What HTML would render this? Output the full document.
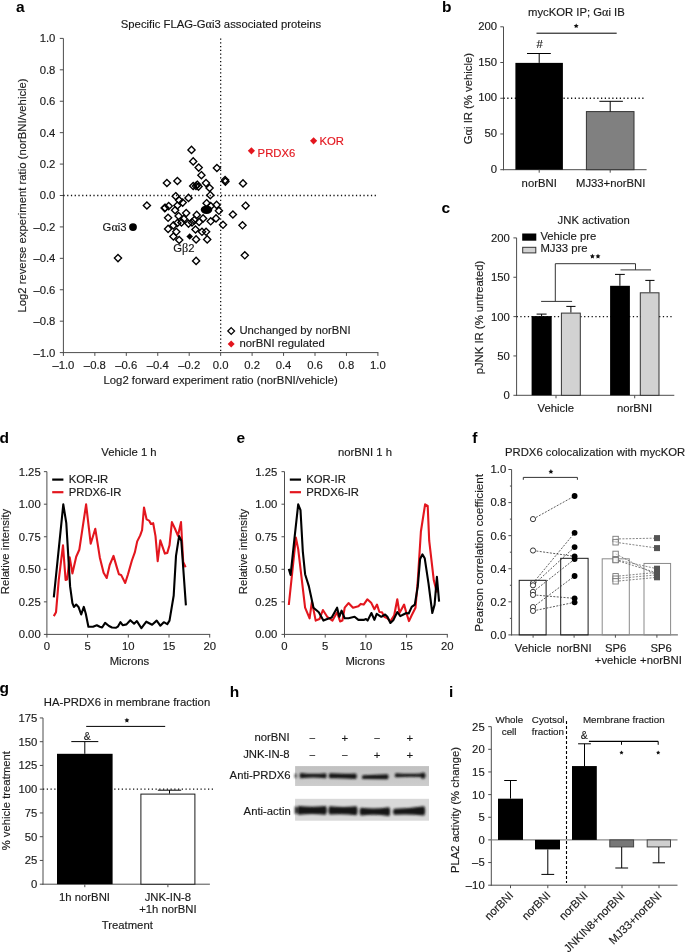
<!DOCTYPE html>
<html><head><meta charset="utf-8"><style>
html,body{margin:0;padding:0;background:#fff;}
svg{display:block;will-change:transform;}
text{font-family:"Liberation Sans",sans-serif;}
</style></head><body>
<svg width="685" height="952" viewBox="0 0 685 952">
<rect width="685" height="952" fill="#fff"/>
<text x="16.00" y="11.70" text-anchor="start" font-size="15.5" fill="#000" stroke="#000" stroke-width="0" font-weight="bold" >a</text>
<text x="221.00" y="28.30" text-anchor="middle" font-size="11.3" fill="#1a1a1a" stroke="#1a1a1a" stroke-width="0.15" font-weight="normal" >Specific FLAG-G<tspan font-family="Liberation Serif" font-size="12.2">α</tspan>i3 associated proteins</text>
<line x1="63.40" y1="38.40" x2="63.40" y2="353.10" stroke="#4d4d4d" stroke-width="1" />
<line x1="62.90" y1="352.60" x2="378.40" y2="352.60" stroke="#4d4d4d" stroke-width="1" />
<line x1="59.80" y1="352.60" x2="63.40" y2="352.60" stroke="#4d4d4d" stroke-width="1" />
<line x1="63.40" y1="352.60" x2="63.40" y2="355.90" stroke="#4d4d4d" stroke-width="1" />
<text x="55.40" y="356.50" text-anchor="end" font-size="11.3" fill="#1a1a1a" stroke="#1a1a1a" stroke-width="0.15" font-weight="normal" >–1.0</text>
<text x="63.40" y="368.50" text-anchor="middle" font-size="11.3" fill="#1a1a1a" stroke="#1a1a1a" stroke-width="0.15" font-weight="normal" >–1.0</text>
<line x1="59.80" y1="321.18" x2="63.40" y2="321.18" stroke="#4d4d4d" stroke-width="1" />
<line x1="94.85" y1="352.60" x2="94.85" y2="355.90" stroke="#4d4d4d" stroke-width="1" />
<text x="55.40" y="325.08" text-anchor="end" font-size="11.3" fill="#1a1a1a" stroke="#1a1a1a" stroke-width="0.15" font-weight="normal" >–0.8</text>
<text x="94.85" y="368.50" text-anchor="middle" font-size="11.3" fill="#1a1a1a" stroke="#1a1a1a" stroke-width="0.15" font-weight="normal" >–0.8</text>
<line x1="59.80" y1="289.76" x2="63.40" y2="289.76" stroke="#4d4d4d" stroke-width="1" />
<line x1="126.30" y1="352.60" x2="126.30" y2="355.90" stroke="#4d4d4d" stroke-width="1" />
<text x="55.40" y="293.66" text-anchor="end" font-size="11.3" fill="#1a1a1a" stroke="#1a1a1a" stroke-width="0.15" font-weight="normal" >–0.6</text>
<text x="126.30" y="368.50" text-anchor="middle" font-size="11.3" fill="#1a1a1a" stroke="#1a1a1a" stroke-width="0.15" font-weight="normal" >–0.6</text>
<line x1="59.80" y1="258.34" x2="63.40" y2="258.34" stroke="#4d4d4d" stroke-width="1" />
<line x1="157.75" y1="352.60" x2="157.75" y2="355.90" stroke="#4d4d4d" stroke-width="1" />
<text x="55.40" y="262.24" text-anchor="end" font-size="11.3" fill="#1a1a1a" stroke="#1a1a1a" stroke-width="0.15" font-weight="normal" >–0.4</text>
<text x="157.75" y="368.50" text-anchor="middle" font-size="11.3" fill="#1a1a1a" stroke="#1a1a1a" stroke-width="0.15" font-weight="normal" >–0.4</text>
<line x1="59.80" y1="226.92" x2="63.40" y2="226.92" stroke="#4d4d4d" stroke-width="1" />
<line x1="189.20" y1="352.60" x2="189.20" y2="355.90" stroke="#4d4d4d" stroke-width="1" />
<text x="55.40" y="230.82" text-anchor="end" font-size="11.3" fill="#1a1a1a" stroke="#1a1a1a" stroke-width="0.15" font-weight="normal" >–0.2</text>
<text x="189.20" y="368.50" text-anchor="middle" font-size="11.3" fill="#1a1a1a" stroke="#1a1a1a" stroke-width="0.15" font-weight="normal" >–0.2</text>
<line x1="59.80" y1="195.50" x2="63.40" y2="195.50" stroke="#4d4d4d" stroke-width="1" />
<line x1="220.65" y1="352.60" x2="220.65" y2="355.90" stroke="#4d4d4d" stroke-width="1" />
<text x="55.40" y="199.40" text-anchor="end" font-size="11.3" fill="#1a1a1a" stroke="#1a1a1a" stroke-width="0.15" font-weight="normal" >0.0</text>
<text x="220.65" y="368.50" text-anchor="middle" font-size="11.3" fill="#1a1a1a" stroke="#1a1a1a" stroke-width="0.15" font-weight="normal" >0.0</text>
<line x1="59.80" y1="164.08" x2="63.40" y2="164.08" stroke="#4d4d4d" stroke-width="1" />
<line x1="252.10" y1="352.60" x2="252.10" y2="355.90" stroke="#4d4d4d" stroke-width="1" />
<text x="55.40" y="167.98" text-anchor="end" font-size="11.3" fill="#1a1a1a" stroke="#1a1a1a" stroke-width="0.15" font-weight="normal" >0.2</text>
<text x="252.10" y="368.50" text-anchor="middle" font-size="11.3" fill="#1a1a1a" stroke="#1a1a1a" stroke-width="0.15" font-weight="normal" >0.2</text>
<line x1="59.80" y1="132.66" x2="63.40" y2="132.66" stroke="#4d4d4d" stroke-width="1" />
<line x1="283.55" y1="352.60" x2="283.55" y2="355.90" stroke="#4d4d4d" stroke-width="1" />
<text x="55.40" y="136.56" text-anchor="end" font-size="11.3" fill="#1a1a1a" stroke="#1a1a1a" stroke-width="0.15" font-weight="normal" >0.4</text>
<text x="283.55" y="368.50" text-anchor="middle" font-size="11.3" fill="#1a1a1a" stroke="#1a1a1a" stroke-width="0.15" font-weight="normal" >0.4</text>
<line x1="59.80" y1="101.24" x2="63.40" y2="101.24" stroke="#4d4d4d" stroke-width="1" />
<line x1="315.00" y1="352.60" x2="315.00" y2="355.90" stroke="#4d4d4d" stroke-width="1" />
<text x="55.40" y="105.14" text-anchor="end" font-size="11.3" fill="#1a1a1a" stroke="#1a1a1a" stroke-width="0.15" font-weight="normal" >0.6</text>
<text x="315.00" y="368.50" text-anchor="middle" font-size="11.3" fill="#1a1a1a" stroke="#1a1a1a" stroke-width="0.15" font-weight="normal" >0.6</text>
<line x1="59.80" y1="69.82" x2="63.40" y2="69.82" stroke="#4d4d4d" stroke-width="1" />
<line x1="346.45" y1="352.60" x2="346.45" y2="355.90" stroke="#4d4d4d" stroke-width="1" />
<text x="55.40" y="73.72" text-anchor="end" font-size="11.3" fill="#1a1a1a" stroke="#1a1a1a" stroke-width="0.15" font-weight="normal" >0.8</text>
<text x="346.45" y="368.50" text-anchor="middle" font-size="11.3" fill="#1a1a1a" stroke="#1a1a1a" stroke-width="0.15" font-weight="normal" >0.8</text>
<line x1="59.80" y1="38.40" x2="63.40" y2="38.40" stroke="#4d4d4d" stroke-width="1" />
<line x1="377.90" y1="352.60" x2="377.90" y2="355.90" stroke="#4d4d4d" stroke-width="1" />
<text x="55.40" y="42.30" text-anchor="end" font-size="11.3" fill="#1a1a1a" stroke="#1a1a1a" stroke-width="0.15" font-weight="normal" >1.0</text>
<text x="377.90" y="368.50" text-anchor="middle" font-size="11.3" fill="#1a1a1a" stroke="#1a1a1a" stroke-width="0.15" font-weight="normal" >1.0</text>
<line x1="63.40" y1="195.50" x2="377.90" y2="195.50" stroke="#111" stroke-width="1.3" stroke-dasharray="1.25 2.5"/>
<line x1="220.65" y1="38.40" x2="220.65" y2="352.60" stroke="#111" stroke-width="1.3" stroke-dasharray="1.25 2.5"/>
<text x="220.65" y="383.80" text-anchor="middle" font-size="11.3" fill="#1a1a1a" stroke="#1a1a1a" stroke-width="0.15" font-weight="normal" >Log2 forward experiment ratio (norBNI/vehicle)</text>
<text x="0" y="0" text-anchor="middle" font-size="11.3" fill="#1a1a1a" stroke="#1a1a1a" stroke-width="0.15" transform="translate(26.15,195.50) rotate(-90)">Log2 reverse experiment ratio (norBNI/vehicle)</text>
<path d="M191.5 146.3L195.1 149.9L191.5 153.5L187.9 149.9Z" fill="none" stroke="#000" stroke-width="1.35"/>
<path d="M193.2 157.8L196.8 161.4L193.2 165.0L189.6 161.4Z" fill="none" stroke="#000" stroke-width="1.35"/>
<path d="M198.7 164.0L202.3 167.6L198.7 171.2L195.1 167.6Z" fill="none" stroke="#000" stroke-width="1.35"/>
<path d="M216.9 164.4L220.5 168.0L216.9 171.6L213.3 168.0Z" fill="none" stroke="#000" stroke-width="1.35"/>
<path d="M201.4 171.6L205.0 175.2L201.4 178.8L197.8 175.2Z" fill="none" stroke="#000" stroke-width="1.35"/>
<path d="M225.1 176.5L228.7 180.1L225.1 183.7L221.5 180.1Z" fill="none" stroke="#000" stroke-width="1.35"/>
<path d="M225.4 178.0L229.0 181.6L225.4 185.2L221.8 181.6Z" fill="none" stroke="#000" stroke-width="1.35"/>
<path d="M166.9 179.4L170.5 183.0L166.9 186.6L163.3 183.0Z" fill="none" stroke="#000" stroke-width="1.35"/>
<path d="M177.4 177.4L181.0 181.0L177.4 184.6L173.8 181.0Z" fill="none" stroke="#000" stroke-width="1.35"/>
<path d="M193.2 182.4L196.8 186.0L193.2 189.6L189.6 186.0Z" fill="none" stroke="#000" stroke-width="1.35"/>
<path d="M197.2 181.1L200.8 184.7L197.2 188.3L193.6 184.7Z" fill="none" stroke="#000" stroke-width="1.35"/>
<path d="M198.5 183.0L202.1 186.6L198.5 190.2L194.9 186.6Z" fill="none" stroke="#000" stroke-width="1.35"/>
<path d="M196.0 182.4L199.6 186.0L196.0 189.6L192.4 186.0Z" fill="none" stroke="#000" stroke-width="1.35"/>
<path d="M206.0 179.5L209.6 183.1L206.0 186.7L202.4 183.1Z" fill="none" stroke="#000" stroke-width="1.35"/>
<path d="M209.6 184.4L213.2 188.0L209.6 191.6L206.0 188.0Z" fill="none" stroke="#000" stroke-width="1.35"/>
<path d="M210.3 191.6L213.9 195.2L210.3 198.8L206.7 195.2Z" fill="none" stroke="#000" stroke-width="1.35"/>
<path d="M243.0 179.8L246.6 183.4L243.0 187.0L239.4 183.4Z" fill="none" stroke="#000" stroke-width="1.35"/>
<path d="M175.7 192.6L179.3 196.2L175.7 199.8L172.1 196.2Z" fill="none" stroke="#000" stroke-width="1.35"/>
<path d="M179.2 196.7L182.8 200.3L179.2 203.9L175.6 200.3Z" fill="none" stroke="#000" stroke-width="1.35"/>
<path d="M182.7 199.0L186.3 202.6L182.7 206.2L179.1 202.6Z" fill="none" stroke="#000" stroke-width="1.35"/>
<path d="M188.5 194.3L192.1 197.9L188.5 201.5L184.9 197.9Z" fill="none" stroke="#000" stroke-width="1.35"/>
<path d="M177.4 201.9L181.0 205.5L177.4 209.1L173.8 205.5Z" fill="none" stroke="#000" stroke-width="1.35"/>
<path d="M165.2 204.2L168.8 207.8L165.2 211.4L161.6 207.8Z" fill="none" stroke="#000" stroke-width="1.35"/>
<path d="M168.7 202.5L172.3 206.1L168.7 209.7L165.1 206.1Z" fill="none" stroke="#000" stroke-width="1.35"/>
<path d="M175.1 206.6L178.7 210.2L175.1 213.8L171.5 210.2Z" fill="none" stroke="#000" stroke-width="1.35"/>
<path d="M206.6 199.6L210.2 203.2L206.6 206.8L203.0 203.2Z" fill="none" stroke="#000" stroke-width="1.35"/>
<path d="M210.7 202.5L214.3 206.1L210.7 209.7L207.1 206.1Z" fill="none" stroke="#000" stroke-width="1.35"/>
<path d="M216.6 201.3L220.2 204.9L216.6 208.5L213.0 204.9Z" fill="none" stroke="#000" stroke-width="1.35"/>
<path d="M218.9 207.2L222.5 210.8L218.9 214.4L215.3 210.8Z" fill="none" stroke="#000" stroke-width="1.35"/>
<path d="M168.1 214.2L171.7 217.8L168.1 221.4L164.5 217.8Z" fill="none" stroke="#000" stroke-width="1.35"/>
<path d="M178.6 212.4L182.2 216.0L178.6 219.6L175.0 216.0Z" fill="none" stroke="#000" stroke-width="1.35"/>
<path d="M186.2 209.5L189.8 213.1L186.2 216.7L182.6 213.1Z" fill="none" stroke="#000" stroke-width="1.35"/>
<path d="M196.7 211.3L200.3 214.9L196.7 218.5L193.1 214.9Z" fill="none" stroke="#000" stroke-width="1.35"/>
<path d="M183.9 215.3L187.5 218.9L183.9 222.5L180.3 218.9Z" fill="none" stroke="#000" stroke-width="1.35"/>
<path d="M194.4 216.5L198.0 220.1L194.4 223.7L190.8 220.1Z" fill="none" stroke="#000" stroke-width="1.35"/>
<path d="M203.1 214.8L206.7 218.4L203.1 222.0L199.5 218.4Z" fill="none" stroke="#000" stroke-width="1.35"/>
<path d="M210.7 217.7L214.3 221.3L210.7 224.9L207.1 221.3Z" fill="none" stroke="#000" stroke-width="1.35"/>
<path d="M216.0 214.8L219.6 218.4L216.0 222.0L212.4 218.4Z" fill="none" stroke="#000" stroke-width="1.35"/>
<path d="M177.4 219.4L181.0 223.0L177.4 226.6L173.8 223.0Z" fill="none" stroke="#000" stroke-width="1.35"/>
<path d="M173.4 221.8L177.0 225.4L173.4 229.0L169.8 225.4Z" fill="none" stroke="#000" stroke-width="1.35"/>
<path d="M181.5 218.8L185.1 222.4L181.5 226.0L177.9 222.4Z" fill="none" stroke="#000" stroke-width="1.35"/>
<path d="M188.5 220.0L192.1 223.6L188.5 227.2L184.9 223.6Z" fill="none" stroke="#000" stroke-width="1.35"/>
<path d="M192.0 218.8L195.6 222.4L192.0 226.0L188.4 222.4Z" fill="none" stroke="#000" stroke-width="1.35"/>
<path d="M199.1 218.3L202.7 221.9L199.1 225.5L195.5 221.9Z" fill="none" stroke="#000" stroke-width="1.35"/>
<path d="M223.0 221.2L226.6 224.8L223.0 228.4L219.4 224.8Z" fill="none" stroke="#000" stroke-width="1.35"/>
<path d="M168.1 225.3L171.7 228.9L168.1 232.5L164.5 228.9Z" fill="none" stroke="#000" stroke-width="1.35"/>
<path d="M176.3 228.2L179.9 231.8L176.3 235.4L172.7 231.8Z" fill="none" stroke="#000" stroke-width="1.35"/>
<path d="M195.5 225.9L199.1 229.5L195.5 233.1L191.9 229.5Z" fill="none" stroke="#000" stroke-width="1.35"/>
<path d="M202.0 228.2L205.6 231.8L202.0 235.4L198.4 231.8Z" fill="none" stroke="#000" stroke-width="1.35"/>
<path d="M206.1 228.2L209.7 231.8L206.1 235.4L202.5 231.8Z" fill="none" stroke="#000" stroke-width="1.35"/>
<path d="M173.4 232.9L177.0 236.5L173.4 240.1L169.8 236.5Z" fill="none" stroke="#000" stroke-width="1.35"/>
<path d="M179.2 236.4L182.8 240.0L179.2 243.6L175.6 240.0Z" fill="none" stroke="#000" stroke-width="1.35"/>
<path d="M196.1 235.8L199.7 239.4L196.1 243.0L192.5 239.4Z" fill="none" stroke="#000" stroke-width="1.35"/>
<path d="M207.2 235.8L210.8 239.4L207.2 243.0L203.6 239.4Z" fill="none" stroke="#000" stroke-width="1.35"/>
<path d="M146.9 201.9L150.5 205.5L146.9 209.1L143.3 205.5Z" fill="none" stroke="#000" stroke-width="1.35"/>
<path d="M118.0 254.5L121.6 258.1L118.0 261.7L114.4 258.1Z" fill="none" stroke="#000" stroke-width="1.35"/>
<path d="M245.6 202.1L249.2 205.7L245.6 209.3L242.0 205.7Z" fill="none" stroke="#000" stroke-width="1.35"/>
<path d="M232.9 210.9L236.5 214.5L232.9 218.1L229.3 214.5Z" fill="none" stroke="#000" stroke-width="1.35"/>
<path d="M242.5 221.7L246.1 225.3L242.5 228.9L238.9 225.3Z" fill="none" stroke="#000" stroke-width="1.35"/>
<path d="M244.8 251.7L248.4 255.3L244.8 258.9L241.2 255.3Z" fill="none" stroke="#000" stroke-width="1.35"/>
<path d="M196.1 257.3L199.7 260.9L196.1 264.5L192.5 260.9Z" fill="none" stroke="#000" stroke-width="1.35"/>
<path d="M164.7 204.5L168.3 208.1L164.7 211.7L161.1 208.1Z" fill="none" stroke="#000" stroke-width="1.35"/>
<ellipse cx="206.5" cy="209.8" rx="5.8" ry="4.2" fill="#000"/>
<circle cx="133.0" cy="227.1" r="3.9" fill="#000"/>
<text x="102.60" y="230.60" text-anchor="start" font-size="11.3" fill="#1a1a1a" stroke="#1a1a1a" stroke-width="0.15" font-weight="normal" >G<tspan font-family="Liberation Serif" font-size="12.2">α</tspan>i3</text>
<path d="M189.7 233.2L193.0 236.5L189.7 239.8L186.4 236.5Z" fill="#000"/>
<text x="173.30" y="252.10" text-anchor="start" font-size="11.3" fill="#1a1a1a" stroke="#1a1a1a" stroke-width="0.15" font-weight="normal" >G<tspan font-family="Liberation Serif" font-size="12.2">β</tspan>2</text>
<path d="M251.4 147.2L255.0 150.8L251.4 154.4L247.8 150.8Z" fill="#e3161e"/>
<text x="257.60" y="157.40" text-anchor="start" font-size="11.3" fill="#e3161e" stroke="#e3161e" stroke-width="0.15" font-weight="normal" >PRDX6</text>
<path d="M313.6 137.2L317.2 140.8L313.6 144.4L310.0 140.8Z" fill="#e3161e"/>
<text x="319.40" y="145.00" text-anchor="start" font-size="11.3" fill="#e3161e" stroke="#e3161e" stroke-width="0.15" font-weight="normal" >KOR</text>
<path d="M231.2 327.6L234.6 331L231.2 334.4L227.8 331Z" fill="none" stroke="#000" stroke-width="1.25"/>
<text x="239.40" y="333.60" text-anchor="start" font-size="11.3" fill="#1a1a1a" stroke="#1a1a1a" stroke-width="0.15" font-weight="normal" >Unchanged by norBNI</text>
<path d="M231.2 340.6L234.7 344.1L231.2 347.6L227.7 344.1Z" fill="#e3161e"/>
<text x="239.40" y="346.70" text-anchor="start" font-size="11.3" fill="#1a1a1a" stroke="#1a1a1a" stroke-width="0.15" font-weight="normal" >norBNI regulated</text>
<text x="442.00" y="12.20" text-anchor="start" font-size="15.5" fill="#000" stroke="#000" stroke-width="0" font-weight="bold" >b</text>
<line x1="503.50" y1="26.80" x2="503.50" y2="170.20" stroke="#4d4d4d" stroke-width="1" />
<line x1="503.00" y1="169.70" x2="646.60" y2="169.70" stroke="#4d4d4d" stroke-width="1" />
<line x1="500.30" y1="169.70" x2="503.50" y2="169.70" stroke="#4d4d4d" stroke-width="1" />
<text x="497.00" y="172.90" text-anchor="end" font-size="11.3" fill="#1a1a1a" stroke="#1a1a1a" stroke-width="0.15" font-weight="normal" >0</text>
<line x1="500.30" y1="133.97" x2="503.50" y2="133.97" stroke="#4d4d4d" stroke-width="1" />
<text x="497.00" y="137.17" text-anchor="end" font-size="11.3" fill="#1a1a1a" stroke="#1a1a1a" stroke-width="0.15" font-weight="normal" >50</text>
<line x1="500.30" y1="98.25" x2="503.50" y2="98.25" stroke="#4d4d4d" stroke-width="1" />
<text x="497.00" y="101.45" text-anchor="end" font-size="11.3" fill="#1a1a1a" stroke="#1a1a1a" stroke-width="0.15" font-weight="normal" >100</text>
<line x1="500.30" y1="62.52" x2="503.50" y2="62.52" stroke="#4d4d4d" stroke-width="1" />
<text x="497.00" y="65.72" text-anchor="end" font-size="11.3" fill="#1a1a1a" stroke="#1a1a1a" stroke-width="0.15" font-weight="normal" >150</text>
<line x1="500.30" y1="26.80" x2="503.50" y2="26.80" stroke="#4d4d4d" stroke-width="1" />
<text x="497.00" y="30.00" text-anchor="end" font-size="11.3" fill="#1a1a1a" stroke="#1a1a1a" stroke-width="0.15" font-weight="normal" >200</text>
<line x1="503.50" y1="98.25" x2="645.80" y2="98.25" stroke="#111" stroke-width="1.3" stroke-dasharray="1.25 2.5"/>
<rect x="515.40" y="62.88" width="47.50" height="106.82" fill="#000" stroke="none" stroke-width="1"/>
<line x1="539.20" y1="62.88" x2="539.20" y2="53.50" stroke="#000" stroke-width="1" />
<line x1="527.00" y1="53.50" x2="550.80" y2="53.50" stroke="#000" stroke-width="1" />
<rect x="586.40" y="111.60" width="47.60" height="58.10" fill="#808080" stroke="#333" stroke-width="1"/>
<line x1="610.20" y1="111.60" x2="610.20" y2="101.30" stroke="#000" stroke-width="1" />
<line x1="599.40" y1="101.30" x2="622.90" y2="101.30" stroke="#000" stroke-width="1" />
<line x1="539.20" y1="169.70" x2="539.20" y2="172.70" stroke="#4d4d4d" stroke-width="1" />
<line x1="610.20" y1="169.70" x2="610.20" y2="172.70" stroke="#4d4d4d" stroke-width="1" />
<text x="539.20" y="186.60" text-anchor="middle" font-size="11.3" fill="#1a1a1a" stroke="#1a1a1a" stroke-width="0.15" font-weight="normal" >norBNI</text>
<text x="610.70" y="186.60" text-anchor="middle" font-size="11.3" fill="#1a1a1a" stroke="#1a1a1a" stroke-width="0.15" font-weight="normal" >MJ33+norBNI</text>
<line x1="536.50" y1="33.20" x2="616.70" y2="33.20" stroke="#000" stroke-width="1" />
<polygon points="576.20,23.40 576.96,24.95 578.67,25.20 577.44,26.40 577.73,28.10 576.20,27.30 574.67,28.10 574.96,26.40 573.73,25.20 575.44,24.95" fill="#111"/>
<text x="539.70" y="47.80" text-anchor="middle" font-size="11.3" fill="#1a1a1a" stroke="#1a1a1a" stroke-width="0.15" font-weight="normal" >#</text>
<text x="576.40" y="16.20" text-anchor="middle" font-size="11.3" fill="#1a1a1a" stroke="#1a1a1a" stroke-width="0.15" font-weight="normal" >mycKOR IP; G<tspan font-family="Liberation Serif" font-size="12.2">α</tspan>i IB</text>
<text x="0" y="0" text-anchor="middle" font-size="11.3" fill="#1a1a1a" stroke="#1a1a1a" stroke-width="0.15" transform="translate(471.80,98.60) rotate(-90)">G<tspan font-family="Liberation Serif" font-size="12.2">α</tspan>i IR (% vehicle)</text>
<text x="441.50" y="213.00" text-anchor="start" font-size="15.5" fill="#000" stroke="#000" stroke-width="0" font-weight="bold" >c</text>
<line x1="516.60" y1="237.90" x2="516.60" y2="395.80" stroke="#4d4d4d" stroke-width="1" />
<line x1="516.00" y1="395.30" x2="674.30" y2="395.30" stroke="#4d4d4d" stroke-width="1" />
<line x1="513.40" y1="395.30" x2="516.60" y2="395.30" stroke="#4d4d4d" stroke-width="1" />
<text x="509.90" y="399.20" text-anchor="end" font-size="11.3" fill="#1a1a1a" stroke="#1a1a1a" stroke-width="0.15" font-weight="normal" >0</text>
<line x1="513.40" y1="355.95" x2="516.60" y2="355.95" stroke="#4d4d4d" stroke-width="1" />
<text x="509.90" y="359.85" text-anchor="end" font-size="11.3" fill="#1a1a1a" stroke="#1a1a1a" stroke-width="0.15" font-weight="normal" >50</text>
<line x1="513.40" y1="316.60" x2="516.60" y2="316.60" stroke="#4d4d4d" stroke-width="1" />
<text x="509.90" y="320.50" text-anchor="end" font-size="11.3" fill="#1a1a1a" stroke="#1a1a1a" stroke-width="0.15" font-weight="normal" >100</text>
<line x1="513.40" y1="277.25" x2="516.60" y2="277.25" stroke="#4d4d4d" stroke-width="1" />
<text x="509.90" y="281.15" text-anchor="end" font-size="11.3" fill="#1a1a1a" stroke="#1a1a1a" stroke-width="0.15" font-weight="normal" >150</text>
<line x1="513.40" y1="237.90" x2="516.60" y2="237.90" stroke="#4d4d4d" stroke-width="1" />
<text x="509.90" y="241.80" text-anchor="end" font-size="11.3" fill="#1a1a1a" stroke="#1a1a1a" stroke-width="0.15" font-weight="normal" >200</text>
<line x1="516.60" y1="316.60" x2="673.80" y2="316.60" stroke="#111" stroke-width="1.3" stroke-dasharray="1.25 2.5"/>
<line x1="541.60" y1="316.10" x2="541.60" y2="314.10" stroke="#000" stroke-width="1" />
<line x1="536.60" y1="314.10" x2="546.60" y2="314.10" stroke="#000" stroke-width="1" />
<line x1="570.90" y1="312.60" x2="570.90" y2="306.40" stroke="#000" stroke-width="1" />
<line x1="566.30" y1="306.40" x2="575.50" y2="306.40" stroke="#000" stroke-width="1" />
<line x1="619.90" y1="285.80" x2="619.90" y2="274.40" stroke="#000" stroke-width="1" />
<line x1="615.00" y1="274.40" x2="624.80" y2="274.40" stroke="#000" stroke-width="1" />
<line x1="649.90" y1="292.30" x2="649.90" y2="280.40" stroke="#000" stroke-width="1" />
<line x1="645.30" y1="280.40" x2="654.50" y2="280.40" stroke="#000" stroke-width="1" />
<rect x="531.60" y="316.10" width="20.10" height="79.20" fill="#000" stroke="none" stroke-width="1"/>
<rect x="561.40" y="313.10" width="18.90" height="82.20" fill="#d2d2d2" stroke="#333" stroke-width="1"/>
<rect x="610.10" y="285.80" width="19.80" height="109.50" fill="#000" stroke="none" stroke-width="1"/>
<rect x="640.30" y="292.80" width="18.70" height="102.50" fill="#d2d2d2" stroke="#333" stroke-width="1"/>
<line x1="556.00" y1="395.30" x2="556.00" y2="398.30" stroke="#4d4d4d" stroke-width="1" />
<line x1="634.70" y1="395.30" x2="634.70" y2="398.30" stroke="#4d4d4d" stroke-width="1" />
<text x="555.80" y="412.10" text-anchor="middle" font-size="11.3" fill="#1a1a1a" stroke="#1a1a1a" stroke-width="0.15" font-weight="normal" >Vehicle</text>
<text x="634.50" y="412.10" text-anchor="middle" font-size="11.3" fill="#1a1a1a" stroke="#1a1a1a" stroke-width="0.15" font-weight="normal" >norBNI</text>
<line x1="541.10" y1="301.40" x2="572.10" y2="301.40" stroke="#333" stroke-width="1" />
<line x1="555.30" y1="301.40" x2="555.30" y2="263.70" stroke="#333" stroke-width="1" />
<line x1="555.30" y1="263.70" x2="635.50" y2="263.70" stroke="#333" stroke-width="1" />
<line x1="635.50" y1="263.70" x2="635.50" y2="269.90" stroke="#333" stroke-width="1" />
<line x1="620.50" y1="269.90" x2="651.00" y2="269.90" stroke="#333" stroke-width="1" />
<polygon points="592.40,253.80 593.16,255.35 594.87,255.60 593.64,256.80 593.93,258.50 592.40,257.70 590.87,258.50 591.16,256.80 589.93,255.60 591.64,255.35" fill="#111"/>
<polygon points="598.00,253.80 598.76,255.35 600.47,255.60 599.24,256.80 599.53,258.50 598.00,257.70 596.47,258.50 596.76,256.80 595.53,255.60 597.24,255.35" fill="#111"/>
<rect x="522.20" y="233.50" width="14.10" height="7.20" fill="#000" stroke="none" stroke-width="1"/>
<rect x="522.70" y="247.30" width="13.10" height="5.60" fill="#d2d2d2" stroke="#333" stroke-width="1"/>
<text x="540.40" y="240.10" text-anchor="start" font-size="11.3" fill="#1a1a1a" stroke="#1a1a1a" stroke-width="0.15" font-weight="normal" >Vehicle pre</text>
<text x="540.40" y="252.40" text-anchor="start" font-size="11.3" fill="#1a1a1a" stroke="#1a1a1a" stroke-width="0.15" font-weight="normal" >MJ33 pre</text>
<text x="593.70" y="223.60" text-anchor="middle" font-size="11.3" fill="#1a1a1a" stroke="#1a1a1a" stroke-width="0.15" font-weight="normal" >JNK activation</text>
<text x="0" y="0" text-anchor="middle" font-size="11.3" fill="#1a1a1a" stroke="#1a1a1a" stroke-width="0.15" transform="translate(483.30,317.50) rotate(-90)">pJNK IR (% untreated)</text>
<text x="-0.60" y="443.40" text-anchor="start" font-size="15.5" fill="#000" stroke="#000" stroke-width="0" font-weight="bold" >d</text>
<line x1="46.90" y1="471.65" x2="46.90" y2="634.90" stroke="#4d4d4d" stroke-width="1" />
<line x1="46.40" y1="634.40" x2="210.20" y2="634.40" stroke="#4d4d4d" stroke-width="1" />
<line x1="43.90" y1="634.40" x2="46.90" y2="634.40" stroke="#4d4d4d" stroke-width="1" />
<text x="40.70" y="638.30" text-anchor="end" font-size="11.3" fill="#1a1a1a" stroke="#1a1a1a" stroke-width="0.15" font-weight="normal" >0.00</text>
<line x1="43.90" y1="601.85" x2="46.90" y2="601.85" stroke="#4d4d4d" stroke-width="1" />
<text x="40.70" y="605.75" text-anchor="end" font-size="11.3" fill="#1a1a1a" stroke="#1a1a1a" stroke-width="0.15" font-weight="normal" >0.25</text>
<line x1="43.90" y1="569.30" x2="46.90" y2="569.30" stroke="#4d4d4d" stroke-width="1" />
<text x="40.70" y="573.20" text-anchor="end" font-size="11.3" fill="#1a1a1a" stroke="#1a1a1a" stroke-width="0.15" font-weight="normal" >0.50</text>
<line x1="43.90" y1="536.75" x2="46.90" y2="536.75" stroke="#4d4d4d" stroke-width="1" />
<text x="40.70" y="540.65" text-anchor="end" font-size="11.3" fill="#1a1a1a" stroke="#1a1a1a" stroke-width="0.15" font-weight="normal" >0.75</text>
<line x1="43.90" y1="504.20" x2="46.90" y2="504.20" stroke="#4d4d4d" stroke-width="1" />
<text x="40.70" y="508.10" text-anchor="end" font-size="11.3" fill="#1a1a1a" stroke="#1a1a1a" stroke-width="0.15" font-weight="normal" >1.00</text>
<line x1="43.90" y1="471.65" x2="46.90" y2="471.65" stroke="#4d4d4d" stroke-width="1" />
<text x="40.70" y="475.55" text-anchor="end" font-size="11.3" fill="#1a1a1a" stroke="#1a1a1a" stroke-width="0.15" font-weight="normal" >1.25</text>
<line x1="46.90" y1="634.40" x2="46.90" y2="637.60" stroke="#4d4d4d" stroke-width="1" />
<text x="46.90" y="650.10" text-anchor="middle" font-size="11.3" fill="#1a1a1a" stroke="#1a1a1a" stroke-width="0.15" font-weight="normal" >0</text>
<line x1="87.60" y1="634.40" x2="87.60" y2="637.60" stroke="#4d4d4d" stroke-width="1" />
<text x="87.60" y="650.10" text-anchor="middle" font-size="11.3" fill="#1a1a1a" stroke="#1a1a1a" stroke-width="0.15" font-weight="normal" >5</text>
<line x1="128.30" y1="634.40" x2="128.30" y2="637.60" stroke="#4d4d4d" stroke-width="1" />
<text x="128.30" y="650.10" text-anchor="middle" font-size="11.3" fill="#1a1a1a" stroke="#1a1a1a" stroke-width="0.15" font-weight="normal" >10</text>
<line x1="169.00" y1="634.40" x2="169.00" y2="637.60" stroke="#4d4d4d" stroke-width="1" />
<text x="169.00" y="650.10" text-anchor="middle" font-size="11.3" fill="#1a1a1a" stroke="#1a1a1a" stroke-width="0.15" font-weight="normal" >15</text>
<line x1="209.70" y1="634.40" x2="209.70" y2="637.60" stroke="#4d4d4d" stroke-width="1" />
<text x="209.70" y="650.10" text-anchor="middle" font-size="11.3" fill="#1a1a1a" stroke="#1a1a1a" stroke-width="0.15" font-weight="normal" >20</text>
<text x="129.40" y="664.60" text-anchor="middle" font-size="11.3" fill="#1a1a1a" stroke="#1a1a1a" stroke-width="0.15" font-weight="normal" >Microns</text>
<text x="0" y="0" text-anchor="middle" font-size="11.3" fill="#1a1a1a" stroke="#1a1a1a" stroke-width="0.15" transform="translate(9.40,551.50) rotate(-90)">Relative intensity</text>
<text x="129.00" y="456.10" text-anchor="middle" font-size="11.3" fill="#1a1a1a" stroke="#1a1a1a" stroke-width="0.15" font-weight="normal" >Vehicle 1 h</text>
<line x1="52.20" y1="479.60" x2="63.40" y2="479.60" stroke="#000" stroke-width="2.2" />
<line x1="52.20" y1="492.20" x2="63.40" y2="492.20" stroke="#e3161e" stroke-width="2.2" />
<text x="68.70" y="482.80" text-anchor="start" font-size="11.3" fill="#1a1a1a" stroke="#1a1a1a" stroke-width="0.15" font-weight="normal" >KOR-IR</text>
<text x="68.70" y="496.40" text-anchor="start" font-size="11.3" fill="#1a1a1a" stroke="#1a1a1a" stroke-width="0.15" font-weight="normal" >PRDX6-IR</text>
<polyline points="53.8,616.1 56.0,612.3 58.7,580.3 63.0,545.3 65.6,580.0 67.1,579.5 69.7,557.4 72.4,573.4 76.2,556.7 79.3,549.8 86.1,504.4 90.7,543.7 95.3,528.8 99.8,557.4 103.6,572.7 106.7,578.0 109.7,565.0 113.5,555.9 116.6,566.6 118.9,574.2 121.1,574.9 125.2,583.0 128.0,574.2 131.9,560.5 134.9,552.1 137.2,541.4 140.2,535.4 142.1,530.0 144.0,507.5 146.6,519.4 149.1,520.6 150.9,523.9 153.2,523.2 155.5,536.1 157.7,561.2 160.3,540.4 164.9,553.6 167.3,552.9 169.5,545.3 171.9,522.1 174.9,528.5 178.0,535.8 181.0,522.1 183.2,562.0 185.6,567.3" fill="none" stroke="#e3161e" stroke-width="2.1" stroke-linejoin="round" />
<polyline points="53.8,597.3 63.3,504.4 66.3,523.2 70.1,586.4 72.4,603.1 73.9,606.9 76.2,604.6 78.5,606.9 81.2,614.5 83.8,606.9 85.8,613.8 88.4,626.7 93.0,626.7 96.8,625.2 99.8,626.7 102.1,627.5 105.1,622.9 109.0,626.0 112.0,627.5 115.8,627.8 117.8,626.7 120.4,622.2 122.7,625.2 126.5,624.4 130.3,620.2 134.1,623.7 136.9,621.1 141.4,628.2 146.3,621.7 152.1,624.7 156.7,620.6 160.3,625.7 163.8,622.2 167.3,624.1 169.5,620.6 173.7,595.5 176.0,555.9 179.1,536.1 181.3,540.7 185.9,605.4" fill="none" stroke="#000" stroke-width="2.1" stroke-linejoin="round" />
<text x="236.60" y="443.40" text-anchor="start" font-size="15.5" fill="#000" stroke="#000" stroke-width="0" font-weight="bold" >e</text>
<line x1="284.50" y1="471.65" x2="284.50" y2="634.90" stroke="#4d4d4d" stroke-width="1" />
<line x1="284.00" y1="634.40" x2="447.80" y2="634.40" stroke="#4d4d4d" stroke-width="1" />
<line x1="281.50" y1="634.40" x2="284.50" y2="634.40" stroke="#4d4d4d" stroke-width="1" />
<text x="277.30" y="638.30" text-anchor="end" font-size="11.3" fill="#1a1a1a" stroke="#1a1a1a" stroke-width="0.15" font-weight="normal" >0.00</text>
<line x1="281.50" y1="601.85" x2="284.50" y2="601.85" stroke="#4d4d4d" stroke-width="1" />
<text x="277.30" y="605.75" text-anchor="end" font-size="11.3" fill="#1a1a1a" stroke="#1a1a1a" stroke-width="0.15" font-weight="normal" >0.25</text>
<line x1="281.50" y1="569.30" x2="284.50" y2="569.30" stroke="#4d4d4d" stroke-width="1" />
<text x="277.30" y="573.20" text-anchor="end" font-size="11.3" fill="#1a1a1a" stroke="#1a1a1a" stroke-width="0.15" font-weight="normal" >0.50</text>
<line x1="281.50" y1="536.75" x2="284.50" y2="536.75" stroke="#4d4d4d" stroke-width="1" />
<text x="277.30" y="540.65" text-anchor="end" font-size="11.3" fill="#1a1a1a" stroke="#1a1a1a" stroke-width="0.15" font-weight="normal" >0.75</text>
<line x1="281.50" y1="504.20" x2="284.50" y2="504.20" stroke="#4d4d4d" stroke-width="1" />
<text x="277.30" y="508.10" text-anchor="end" font-size="11.3" fill="#1a1a1a" stroke="#1a1a1a" stroke-width="0.15" font-weight="normal" >1.00</text>
<line x1="281.50" y1="471.65" x2="284.50" y2="471.65" stroke="#4d4d4d" stroke-width="1" />
<text x="277.30" y="475.55" text-anchor="end" font-size="11.3" fill="#1a1a1a" stroke="#1a1a1a" stroke-width="0.15" font-weight="normal" >1.25</text>
<line x1="284.50" y1="634.40" x2="284.50" y2="637.60" stroke="#4d4d4d" stroke-width="1" />
<text x="284.50" y="650.10" text-anchor="middle" font-size="11.3" fill="#1a1a1a" stroke="#1a1a1a" stroke-width="0.15" font-weight="normal" >0</text>
<line x1="325.20" y1="634.40" x2="325.20" y2="637.60" stroke="#4d4d4d" stroke-width="1" />
<text x="325.20" y="650.10" text-anchor="middle" font-size="11.3" fill="#1a1a1a" stroke="#1a1a1a" stroke-width="0.15" font-weight="normal" >5</text>
<line x1="365.90" y1="634.40" x2="365.90" y2="637.60" stroke="#4d4d4d" stroke-width="1" />
<text x="365.90" y="650.10" text-anchor="middle" font-size="11.3" fill="#1a1a1a" stroke="#1a1a1a" stroke-width="0.15" font-weight="normal" >10</text>
<line x1="406.60" y1="634.40" x2="406.60" y2="637.60" stroke="#4d4d4d" stroke-width="1" />
<text x="406.60" y="650.10" text-anchor="middle" font-size="11.3" fill="#1a1a1a" stroke="#1a1a1a" stroke-width="0.15" font-weight="normal" >15</text>
<line x1="447.30" y1="634.40" x2="447.30" y2="637.60" stroke="#4d4d4d" stroke-width="1" />
<text x="447.30" y="650.10" text-anchor="middle" font-size="11.3" fill="#1a1a1a" stroke="#1a1a1a" stroke-width="0.15" font-weight="normal" >20</text>
<text x="365.20" y="664.60" text-anchor="middle" font-size="11.3" fill="#1a1a1a" stroke="#1a1a1a" stroke-width="0.15" font-weight="normal" >Microns</text>
<text x="0" y="0" text-anchor="middle" font-size="11.3" fill="#1a1a1a" stroke="#1a1a1a" stroke-width="0.15" transform="translate(247.00,551.50) rotate(-90)">Relative intensity</text>
<text x="365.00" y="456.10" text-anchor="middle" font-size="11.3" fill="#1a1a1a" stroke="#1a1a1a" stroke-width="0.15" font-weight="normal" >norBNI 1 h</text>
<line x1="289.80" y1="479.60" x2="301.00" y2="479.60" stroke="#000" stroke-width="2.2" />
<line x1="289.80" y1="492.20" x2="301.00" y2="492.20" stroke="#e3161e" stroke-width="2.2" />
<text x="306.30" y="482.80" text-anchor="start" font-size="11.3" fill="#1a1a1a" stroke="#1a1a1a" stroke-width="0.15" font-weight="normal" >KOR-IR</text>
<text x="306.30" y="496.40" text-anchor="start" font-size="11.3" fill="#1a1a1a" stroke="#1a1a1a" stroke-width="0.15" font-weight="normal" >PRDX6-IR</text>
<polyline points="288.8,605.0 295.9,537.6 298.2,549.1 305.1,607.7 309.6,618.3 311.9,601.6 315.7,620.6 319.5,619.1 322.9,610.0 327.2,616.8 332.5,620.6 337.1,612.3 340.1,621.4 342.4,620.6 344.7,607.7 348.5,603.1 353.0,607.7 358.4,606.2 360.7,603.9 363.7,604.6 367.3,599.3 371.4,603.1 374.4,609.2 377.0,604.6 379.4,612.0 382.0,612.3 384.3,616.8 387.4,618.3 390.4,621.4 394.2,615.3 397.3,599.3 399.5,613.0 404.1,604.6 406.4,613.0 409.0,621.1 411.7,615.3 415.5,607.7 417.8,580.3 420.9,531.5 425.1,504.4 427.7,506.0 429.2,540.7 433.8,580.3 436.9,592.5" fill="none" stroke="#e3161e" stroke-width="2.1" stroke-linejoin="round" />
<polyline points="288.8,568.9 290.6,574.9 294.4,539.2 298.2,504.4 300.5,510.2 302.8,551.3 305.1,574.2 308.9,586.4 313.5,607.7 318.8,612.3 323.4,620.6 327.2,619.1 331.7,617.6 337.1,607.7 339.3,616.8 341.6,610.7 344.7,618.3 348.5,618.3 354.6,616.8 358.4,619.9 363.7,619.9 366.0,619.1 367.6,620.6 371.4,613.0 374.4,619.9 376.7,613.8 381.3,616.8 385.1,614.5 387.4,616.8 390.4,623.0 393.5,619.9 397.3,612.0 400.3,616.1 403.4,614.5 406.4,613.0 408.7,613.5 411.7,606.9 414.8,604.6 417.8,586.4 420.1,559.0 422.4,554.4 424.7,558.2 428.5,583.3 432.3,613.0 434.6,604.6 436.9,576.9 439.1,601.6" fill="none" stroke="#000" stroke-width="2.1" stroke-linejoin="round" />
<text x="472.30" y="443.30" text-anchor="start" font-size="15.5" fill="#000" stroke="#000" stroke-width="0" font-weight="bold" >f</text>
<line x1="511.60" y1="469.50" x2="511.60" y2="635.40" stroke="#4d4d4d" stroke-width="1" />
<line x1="511.10" y1="634.90" x2="677.90" y2="634.90" stroke="#4d4d4d" stroke-width="1" />
<line x1="508.40" y1="634.90" x2="511.60" y2="634.90" stroke="#4d4d4d" stroke-width="1" />
<text x="506.20" y="638.80" text-anchor="end" font-size="11.3" fill="#1a1a1a" stroke="#1a1a1a" stroke-width="0.15" font-weight="normal" >0.0</text>
<line x1="509.90" y1="618.36" x2="511.60" y2="618.36" stroke="#4d4d4d" stroke-width="1" />
<line x1="508.40" y1="601.82" x2="511.60" y2="601.82" stroke="#4d4d4d" stroke-width="1" />
<text x="506.20" y="605.72" text-anchor="end" font-size="11.3" fill="#1a1a1a" stroke="#1a1a1a" stroke-width="0.15" font-weight="normal" >0.2</text>
<line x1="509.90" y1="585.28" x2="511.60" y2="585.28" stroke="#4d4d4d" stroke-width="1" />
<line x1="508.40" y1="568.74" x2="511.60" y2="568.74" stroke="#4d4d4d" stroke-width="1" />
<text x="506.20" y="572.64" text-anchor="end" font-size="11.3" fill="#1a1a1a" stroke="#1a1a1a" stroke-width="0.15" font-weight="normal" >0.4</text>
<line x1="509.90" y1="552.20" x2="511.60" y2="552.20" stroke="#4d4d4d" stroke-width="1" />
<line x1="508.40" y1="535.66" x2="511.60" y2="535.66" stroke="#4d4d4d" stroke-width="1" />
<text x="506.20" y="539.56" text-anchor="end" font-size="11.3" fill="#1a1a1a" stroke="#1a1a1a" stroke-width="0.15" font-weight="normal" >0.6</text>
<line x1="509.90" y1="519.12" x2="511.60" y2="519.12" stroke="#4d4d4d" stroke-width="1" />
<line x1="508.40" y1="502.58" x2="511.60" y2="502.58" stroke="#4d4d4d" stroke-width="1" />
<text x="506.20" y="506.48" text-anchor="end" font-size="11.3" fill="#1a1a1a" stroke="#1a1a1a" stroke-width="0.15" font-weight="normal" >0.8</text>
<line x1="509.90" y1="486.04" x2="511.60" y2="486.04" stroke="#4d4d4d" stroke-width="1" />
<line x1="508.40" y1="469.50" x2="511.60" y2="469.50" stroke="#4d4d4d" stroke-width="1" />
<text x="506.20" y="473.40" text-anchor="end" font-size="11.3" fill="#1a1a1a" stroke="#1a1a1a" stroke-width="0.15" font-weight="normal" >1.0</text>
<rect x="519.20" y="580.32" width="26.90" height="54.58" fill="none" stroke="#1a1a1a" stroke-width="1"/>
<rect x="560.70" y="558.32" width="27.40" height="76.58" fill="none" stroke="#1a1a1a" stroke-width="1"/>
<rect x="602.20" y="558.82" width="27.10" height="76.08" fill="none" stroke="#8a8a8a" stroke-width="1"/>
<rect x="644.00" y="563.45" width="26.60" height="71.45" fill="none" stroke="#8a8a8a" stroke-width="1"/>
<line x1="533.10" y1="634.90" x2="533.10" y2="637.70" stroke="#4d4d4d" stroke-width="1" />
<line x1="574.10" y1="634.90" x2="574.10" y2="637.70" stroke="#4d4d4d" stroke-width="1" />
<line x1="615.40" y1="634.90" x2="615.40" y2="637.70" stroke="#4d4d4d" stroke-width="1" />
<line x1="656.90" y1="634.90" x2="656.90" y2="637.70" stroke="#4d4d4d" stroke-width="1" />
<text x="533.00" y="651.80" text-anchor="middle" font-size="11.3" fill="#1a1a1a" stroke="#1a1a1a" stroke-width="0.15" font-weight="normal" >Vehicle</text>
<text x="574.00" y="651.80" text-anchor="middle" font-size="11.3" fill="#1a1a1a" stroke="#1a1a1a" stroke-width="0.15" font-weight="normal" >norBNI</text>
<text x="615.70" y="651.80" text-anchor="middle" font-size="11.3" fill="#1a1a1a" stroke="#1a1a1a" stroke-width="0.15" font-weight="normal" >SP6</text>
<text x="661.20" y="651.80" text-anchor="middle" font-size="11.3" fill="#1a1a1a" stroke="#1a1a1a" stroke-width="0.15" font-weight="normal" >SP6</text>
<text x="615.70" y="664.30" text-anchor="middle" font-size="11.3" fill="#1a1a1a" stroke="#1a1a1a" stroke-width="0.15" font-weight="normal" >+vehicle</text>
<text x="661.00" y="664.30" text-anchor="middle" font-size="11.3" fill="#1a1a1a" stroke="#1a1a1a" stroke-width="0.15" font-weight="normal" >+norBNI</text>
<line x1="523.30" y1="477.40" x2="577.40" y2="477.40" stroke="#333" stroke-width="1" />
<line x1="523.30" y1="477.40" x2="523.30" y2="479.80" stroke="#333" stroke-width="1" />
<line x1="577.40" y1="477.40" x2="577.40" y2="479.80" stroke="#333" stroke-width="1" />
<polygon points="550.90,469.10 551.66,470.65 553.37,470.90 552.14,472.10 552.43,473.80 550.90,473.00 549.37,473.80 549.66,472.10 548.43,470.90 550.14,470.65" fill="#111"/>
<text x="505.00" y="455.90" text-anchor="start" font-size="11.3" fill="#1a1a1a" stroke="#1a1a1a" stroke-width="0.15" font-weight="normal" >PRDX6 colocalization with mycKOR</text>
<text x="0" y="0" text-anchor="middle" font-size="11.75" fill="#1a1a1a" stroke="#1a1a1a" stroke-width="0.15" transform="translate(483.40,552.80) rotate(-90)">Pearson correlation coefficient</text>
<line x1="533.00" y1="519.12" x2="574.60" y2="495.96" stroke="#333" stroke-width="0.8" stroke-dasharray="2 1.4"/>
<line x1="533.00" y1="550.55" x2="574.60" y2="556.34" stroke="#333" stroke-width="0.8" stroke-dasharray="2 1.4"/>
<line x1="533.00" y1="583.13" x2="574.60" y2="532.85" stroke="#333" stroke-width="0.8" stroke-dasharray="2 1.4"/>
<line x1="533.00" y1="585.28" x2="574.60" y2="547.07" stroke="#333" stroke-width="0.8" stroke-dasharray="2 1.4"/>
<line x1="533.00" y1="591.90" x2="574.60" y2="559.15" stroke="#333" stroke-width="0.8" stroke-dasharray="2 1.4"/>
<line x1="533.00" y1="594.87" x2="574.60" y2="598.35" stroke="#333" stroke-width="0.8" stroke-dasharray="2 1.4"/>
<line x1="533.00" y1="607.11" x2="574.60" y2="576.02" stroke="#333" stroke-width="0.8" stroke-dasharray="2 1.4"/>
<line x1="533.00" y1="610.92" x2="574.60" y2="602.32" stroke="#333" stroke-width="0.8" stroke-dasharray="2 1.4"/>
<circle cx="533.0" cy="519.1" r="2.6" fill="#fff" stroke="#222" stroke-width="0.9"/>
<circle cx="533.0" cy="550.5" r="2.6" fill="#fff" stroke="#222" stroke-width="0.9"/>
<circle cx="533.0" cy="583.1" r="2.6" fill="#fff" stroke="#222" stroke-width="0.9"/>
<circle cx="533.0" cy="585.3" r="2.6" fill="#fff" stroke="#222" stroke-width="0.9"/>
<circle cx="533.0" cy="591.9" r="2.6" fill="#fff" stroke="#222" stroke-width="0.9"/>
<circle cx="533.0" cy="594.9" r="2.6" fill="#fff" stroke="#222" stroke-width="0.9"/>
<circle cx="533.0" cy="607.1" r="2.6" fill="#fff" stroke="#222" stroke-width="0.9"/>
<circle cx="533.0" cy="610.9" r="2.6" fill="#fff" stroke="#222" stroke-width="0.9"/>
<circle cx="574.6" cy="496.0" r="2.9" fill="#000"/>
<circle cx="574.6" cy="556.3" r="2.9" fill="#000"/>
<circle cx="574.6" cy="532.8" r="2.9" fill="#000"/>
<circle cx="574.6" cy="547.1" r="2.9" fill="#000"/>
<circle cx="574.6" cy="559.1" r="2.9" fill="#000"/>
<circle cx="574.6" cy="598.3" r="2.9" fill="#000"/>
<circle cx="574.6" cy="576.0" r="2.9" fill="#000"/>
<circle cx="574.6" cy="602.3" r="2.9" fill="#000"/>
<line x1="615.60" y1="538.97" x2="657.00" y2="538.14" stroke="#666" stroke-width="0.8" stroke-dasharray="2 1.4"/>
<line x1="615.60" y1="542.28" x2="657.00" y2="548.06" stroke="#666" stroke-width="0.8" stroke-dasharray="2 1.4"/>
<line x1="615.60" y1="553.85" x2="657.00" y2="575.36" stroke="#666" stroke-width="0.8" stroke-dasharray="2 1.4"/>
<line x1="615.60" y1="559.64" x2="657.00" y2="568.74" stroke="#666" stroke-width="0.8" stroke-dasharray="2 1.4"/>
<line x1="615.60" y1="560.14" x2="657.00" y2="572.88" stroke="#666" stroke-width="0.8" stroke-dasharray="2 1.4"/>
<line x1="615.60" y1="576.35" x2="657.00" y2="572.38" stroke="#666" stroke-width="0.8" stroke-dasharray="2 1.4"/>
<line x1="615.60" y1="578.66" x2="657.00" y2="574.86" stroke="#666" stroke-width="0.8" stroke-dasharray="2 1.4"/>
<line x1="615.60" y1="581.31" x2="657.00" y2="577.34" stroke="#666" stroke-width="0.8" stroke-dasharray="2 1.4"/>
<rect x="612.9" y="536.3" width="5.4" height="5.4" fill="#fff" fill-opacity="0.6" stroke="#777" stroke-width="0.9"/>
<rect x="612.9" y="539.6" width="5.4" height="5.4" fill="#fff" fill-opacity="0.6" stroke="#777" stroke-width="0.9"/>
<rect x="612.9" y="551.2" width="5.4" height="5.4" fill="#fff" fill-opacity="0.6" stroke="#777" stroke-width="0.9"/>
<rect x="612.9" y="556.9" width="5.4" height="5.4" fill="#fff" fill-opacity="0.6" stroke="#777" stroke-width="0.9"/>
<rect x="612.9" y="557.4" width="5.4" height="5.4" fill="#fff" fill-opacity="0.6" stroke="#777" stroke-width="0.9"/>
<rect x="612.9" y="573.6" width="5.4" height="5.4" fill="#fff" fill-opacity="0.6" stroke="#777" stroke-width="0.9"/>
<rect x="612.9" y="576.0" width="5.4" height="5.4" fill="#fff" fill-opacity="0.6" stroke="#777" stroke-width="0.9"/>
<rect x="612.9" y="578.6" width="5.4" height="5.4" fill="#fff" fill-opacity="0.6" stroke="#777" stroke-width="0.9"/>
<rect x="654.0" y="535.1" width="6" height="6" fill="#555"/>
<rect x="654.0" y="545.1" width="6" height="6" fill="#555"/>
<rect x="654.0" y="572.4" width="6" height="6" fill="#555"/>
<rect x="654.0" y="565.7" width="6" height="6" fill="#555"/>
<rect x="654.0" y="569.9" width="6" height="6" fill="#555"/>
<rect x="654.0" y="569.4" width="6" height="6" fill="#555"/>
<rect x="654.0" y="571.9" width="6" height="6" fill="#555"/>
<rect x="654.0" y="574.3" width="6" height="6" fill="#555"/>
<text x="-0.50" y="693.20" text-anchor="start" font-size="15.5" fill="#000" stroke="#000" stroke-width="0" font-weight="bold" >g</text>
<line x1="43.00" y1="717.95" x2="43.00" y2="884.70" stroke="#4d4d4d" stroke-width="1" />
<line x1="42.50" y1="884.20" x2="209.90" y2="884.20" stroke="#4d4d4d" stroke-width="1" />
<line x1="39.80" y1="884.20" x2="43.00" y2="884.20" stroke="#4d4d4d" stroke-width="1" />
<text x="37.30" y="888.10" text-anchor="end" font-size="11.3" fill="#1a1a1a" stroke="#1a1a1a" stroke-width="0.15" font-weight="normal" >0</text>
<line x1="39.80" y1="860.45" x2="43.00" y2="860.45" stroke="#4d4d4d" stroke-width="1" />
<text x="37.30" y="864.35" text-anchor="end" font-size="11.3" fill="#1a1a1a" stroke="#1a1a1a" stroke-width="0.15" font-weight="normal" >25</text>
<line x1="39.80" y1="836.70" x2="43.00" y2="836.70" stroke="#4d4d4d" stroke-width="1" />
<text x="37.30" y="840.60" text-anchor="end" font-size="11.3" fill="#1a1a1a" stroke="#1a1a1a" stroke-width="0.15" font-weight="normal" >50</text>
<line x1="39.80" y1="812.95" x2="43.00" y2="812.95" stroke="#4d4d4d" stroke-width="1" />
<text x="37.30" y="816.85" text-anchor="end" font-size="11.3" fill="#1a1a1a" stroke="#1a1a1a" stroke-width="0.15" font-weight="normal" >75</text>
<line x1="39.80" y1="789.20" x2="43.00" y2="789.20" stroke="#4d4d4d" stroke-width="1" />
<text x="37.30" y="793.10" text-anchor="end" font-size="11.3" fill="#1a1a1a" stroke="#1a1a1a" stroke-width="0.15" font-weight="normal" >100</text>
<line x1="39.80" y1="765.45" x2="43.00" y2="765.45" stroke="#4d4d4d" stroke-width="1" />
<text x="37.30" y="769.35" text-anchor="end" font-size="11.3" fill="#1a1a1a" stroke="#1a1a1a" stroke-width="0.15" font-weight="normal" >125</text>
<line x1="39.80" y1="741.70" x2="43.00" y2="741.70" stroke="#4d4d4d" stroke-width="1" />
<text x="37.30" y="745.60" text-anchor="end" font-size="11.3" fill="#1a1a1a" stroke="#1a1a1a" stroke-width="0.15" font-weight="normal" >150</text>
<line x1="39.80" y1="717.95" x2="43.00" y2="717.95" stroke="#4d4d4d" stroke-width="1" />
<text x="37.30" y="721.85" text-anchor="end" font-size="11.3" fill="#1a1a1a" stroke="#1a1a1a" stroke-width="0.15" font-weight="normal" >175</text>
<line x1="43.00" y1="789.20" x2="214.90" y2="789.20" stroke="#111" stroke-width="1.3" stroke-dasharray="1.25 2.5"/>
<rect x="57.00" y="753.80" width="55.60" height="130.40" fill="#000" stroke="none" stroke-width="1"/>
<line x1="84.80" y1="753.80" x2="84.80" y2="741.60" stroke="#000" stroke-width="1" />
<line x1="71.30" y1="741.60" x2="98.30" y2="741.60" stroke="#000" stroke-width="1" />
<rect x="140.90" y="794.10" width="54.00" height="90.10" fill="#fff" stroke="#1a1a1a" stroke-width="1"/>
<line x1="169.50" y1="793.60" x2="169.50" y2="790.20" stroke="#000" stroke-width="1" />
<line x1="157.80" y1="790.20" x2="181.20" y2="790.20" stroke="#000" stroke-width="1" />
<line x1="84.80" y1="884.20" x2="84.80" y2="887.20" stroke="#4d4d4d" stroke-width="1" />
<line x1="167.90" y1="884.20" x2="167.90" y2="887.20" stroke="#4d4d4d" stroke-width="1" />
<line x1="86.20" y1="726.40" x2="165.20" y2="726.40" stroke="#000" stroke-width="1" />
<polygon points="126.90,717.80 127.66,719.35 129.37,719.60 128.14,720.80 128.43,722.50 126.90,721.70 125.37,722.50 125.66,720.80 124.43,719.60 126.14,719.35" fill="#111"/>
<text x="87.30" y="739.60" text-anchor="middle" font-size="10.4" fill="#1a1a1a" stroke="#1a1a1a" stroke-width="0.15" font-weight="normal" >&amp;</text>
<text x="43.80" y="705.70" text-anchor="start" font-size="11.3" fill="#1a1a1a" stroke="#1a1a1a" stroke-width="0.15" font-weight="normal" >HA-PRDX6 in membrane fraction</text>
<text x="84.50" y="901.00" text-anchor="middle" font-size="11.3" fill="#1a1a1a" stroke="#1a1a1a" stroke-width="0.15" font-weight="normal" >1h norBNI</text>
<text x="167.90" y="901.00" text-anchor="middle" font-size="11.3" fill="#1a1a1a" stroke="#1a1a1a" stroke-width="0.15" font-weight="normal" >JNK-IN-8</text>
<text x="167.90" y="912.70" text-anchor="middle" font-size="11.3" fill="#1a1a1a" stroke="#1a1a1a" stroke-width="0.15" font-weight="normal" >+1h norBNI</text>
<text x="127.30" y="928.50" text-anchor="middle" font-size="11.3" fill="#1a1a1a" stroke="#1a1a1a" stroke-width="0.15" font-weight="normal" >Treatment</text>
<text x="0" y="0" text-anchor="middle" font-size="11.3" fill="#1a1a1a" stroke="#1a1a1a" stroke-width="0.15" transform="translate(9.60,800.70) rotate(-90)">% vehicle treatment</text>
<text x="229.80" y="696.50" text-anchor="start" font-size="15.5" fill="#000" stroke="#000" stroke-width="0" font-weight="bold" >h</text>
<text x="289.60" y="740.50" text-anchor="end" font-size="11.3" fill="#1a1a1a" stroke="#1a1a1a" stroke-width="0.15" font-weight="normal" >norBNI</text>
<text x="289.60" y="758.40" text-anchor="end" font-size="11.3" fill="#1a1a1a" stroke="#1a1a1a" stroke-width="0.15" font-weight="normal" >JNK-IN-8</text>
<text x="229.60" y="779.00" text-anchor="start" font-size="11.3" fill="#1a1a1a" stroke="#1a1a1a" stroke-width="0.15" font-weight="normal" >Anti-PRDX6</text>
<text x="243.60" y="814.90" text-anchor="start" font-size="11.3" fill="#1a1a1a" stroke="#1a1a1a" stroke-width="0.15" font-weight="normal" >Anti-actin</text>
<text x="312.40" y="741.90" text-anchor="middle" font-size="11.3" fill="#1a1a1a" stroke="#1a1a1a" stroke-width="0.15" font-weight="normal" >−</text>
<text x="344.70" y="741.90" text-anchor="middle" font-size="11.3" fill="#1a1a1a" stroke="#1a1a1a" stroke-width="0.15" font-weight="normal" >+</text>
<text x="377.00" y="741.90" text-anchor="middle" font-size="11.3" fill="#1a1a1a" stroke="#1a1a1a" stroke-width="0.15" font-weight="normal" >−</text>
<text x="409.70" y="741.90" text-anchor="middle" font-size="11.3" fill="#1a1a1a" stroke="#1a1a1a" stroke-width="0.15" font-weight="normal" >+</text>
<text x="312.40" y="759.20" text-anchor="middle" font-size="11.3" fill="#1a1a1a" stroke="#1a1a1a" stroke-width="0.15" font-weight="normal" >−</text>
<text x="344.70" y="759.20" text-anchor="middle" font-size="11.3" fill="#1a1a1a" stroke="#1a1a1a" stroke-width="0.15" font-weight="normal" >−</text>
<text x="377.00" y="759.20" text-anchor="middle" font-size="11.3" fill="#1a1a1a" stroke="#1a1a1a" stroke-width="0.15" font-weight="normal" >+</text>
<text x="409.70" y="759.20" text-anchor="middle" font-size="11.3" fill="#1a1a1a" stroke="#1a1a1a" stroke-width="0.15" font-weight="normal" >+</text>
<defs><filter id="bl" x="-20%" y="-50%" width="140%" height="200%"><feGaussianBlur stdDeviation="0.85"/></filter><linearGradient id="g1" x1="0" y1="0" x2="0" y2="1"><stop offset="0" stop-color="#c0c0c0"/><stop offset="1" stop-color="#cdcdcd"/></linearGradient></defs>
<rect x="295.10" y="766.10" width="133.90" height="19.90" fill="url(#g1)" stroke="none" stroke-width="1"/>
<rect x="295.10" y="798.80" width="133.90" height="21.90" fill="#d9d9d9" stroke="none" stroke-width="1"/>
<g filter="url(#bl)" fill="#141414">
<path d="M301.00 773.00Q313.15 774.60 325.30 773.20C327.10 773.20 327.10 778.20 325.30 778.20Q313.15 776.70 301.00 778.20C299.20 778.20 299.20 773.00 301.00 773.00Z"/>
<path d="M330.20 773.30Q342.80 774.10 355.40 773.50C357.20 773.50 357.20 779.10 355.40 779.10Q342.80 778.00 330.20 778.30C328.40 778.30 328.40 773.30 330.20 773.30Z"/>
<path d="M363.30 775.20Q375.25 774.95 387.20 774.30C389.00 774.30 389.00 779.30 387.20 779.30Q375.25 778.95 363.30 779.00C361.50 779.00 361.50 775.20 363.30 775.20Z"/>
<path d="M396.20 773.20Q408.50 774.10 420.80 773.40C422.60 773.40 422.60 777.00 420.80 777.00Q408.50 776.30 396.20 777.20C394.40 777.20 394.40 773.20 396.20 773.20Z"/>
<ellipse cx="423" cy="775.6" rx="2.5" ry="3.1"/>
<rect x="294.8" y="773.8" width="1.6" height="4"/>
<path d="M298.70 806.10Q312.10 807.30 325.50 806.10C327.30 806.10 327.30 814.70 325.50 814.70Q312.10 813.50 298.70 814.70C296.90 814.70 296.90 806.10 298.70 806.10Z"/>
<path d="M329.90 806.20Q343.05 807.75 356.20 806.30C358.00 806.30 358.00 815.30 356.20 815.30Q343.05 813.45 329.90 814.60C328.10 814.60 328.10 806.20 329.90 806.20Z"/>
<path d="M361.10 807.75Q374.95 809.52 388.80 807.20C390.60 807.20 390.60 816.00 388.80 816.00Q374.95 813.68 361.10 815.45C359.30 815.45 359.30 807.75 361.10 807.75Z"/>
<path d="M394.50 808.80Q409.15 808.53 423.80 806.15C425.60 806.15 425.60 815.45 423.80 815.45Q409.15 814.07 394.50 814.80C392.70 814.80 392.70 808.80 394.50 808.80Z"/>
<rect x="294.8" y="806.6" width="2" height="7.2"/>
</g>
<text x="448.90" y="696.50" text-anchor="start" font-size="15.5" fill="#000" stroke="#000" stroke-width="0" font-weight="bold" >i</text>
<line x1="491.30" y1="726.65" x2="491.30" y2="885.70" stroke="#4d4d4d" stroke-width="1" />
<line x1="490.80" y1="885.20" x2="677.50" y2="885.20" stroke="#4d4d4d" stroke-width="1" />
<line x1="491.30" y1="839.90" x2="677.50" y2="839.90" stroke="#8c8c8c" stroke-width="1.1" />
<line x1="488.20" y1="885.20" x2="491.30" y2="885.20" stroke="#4d4d4d" stroke-width="1" />
<text x="484.70" y="889.10" text-anchor="end" font-size="11.3" fill="#1a1a1a" stroke="#1a1a1a" stroke-width="0.15" font-weight="normal" >–10</text>
<line x1="488.20" y1="862.55" x2="491.30" y2="862.55" stroke="#4d4d4d" stroke-width="1" />
<text x="484.70" y="866.45" text-anchor="end" font-size="11.3" fill="#1a1a1a" stroke="#1a1a1a" stroke-width="0.15" font-weight="normal" >–5</text>
<line x1="488.20" y1="839.90" x2="491.30" y2="839.90" stroke="#4d4d4d" stroke-width="1" />
<text x="484.70" y="843.80" text-anchor="end" font-size="11.3" fill="#1a1a1a" stroke="#1a1a1a" stroke-width="0.15" font-weight="normal" >0</text>
<line x1="488.20" y1="817.25" x2="491.30" y2="817.25" stroke="#4d4d4d" stroke-width="1" />
<text x="484.70" y="821.15" text-anchor="end" font-size="11.3" fill="#1a1a1a" stroke="#1a1a1a" stroke-width="0.15" font-weight="normal" >5</text>
<line x1="488.20" y1="794.60" x2="491.30" y2="794.60" stroke="#4d4d4d" stroke-width="1" />
<text x="484.70" y="798.50" text-anchor="end" font-size="11.3" fill="#1a1a1a" stroke="#1a1a1a" stroke-width="0.15" font-weight="normal" >10</text>
<line x1="488.20" y1="771.95" x2="491.30" y2="771.95" stroke="#4d4d4d" stroke-width="1" />
<text x="484.70" y="775.85" text-anchor="end" font-size="11.3" fill="#1a1a1a" stroke="#1a1a1a" stroke-width="0.15" font-weight="normal" >15</text>
<line x1="488.20" y1="749.30" x2="491.30" y2="749.30" stroke="#4d4d4d" stroke-width="1" />
<text x="484.70" y="753.20" text-anchor="end" font-size="11.3" fill="#1a1a1a" stroke="#1a1a1a" stroke-width="0.15" font-weight="normal" >20</text>
<line x1="488.20" y1="726.65" x2="491.30" y2="726.65" stroke="#4d4d4d" stroke-width="1" />
<text x="484.70" y="730.55" text-anchor="end" font-size="11.3" fill="#1a1a1a" stroke="#1a1a1a" stroke-width="0.15" font-weight="normal" >25</text>
<rect x="498.00" y="798.68" width="25.00" height="41.22" fill="#000" stroke="none" stroke-width="1"/>
<rect x="535.00" y="839.90" width="25.00" height="9.51" fill="#000" stroke="none" stroke-width="1"/>
<rect x="572.00" y="766.06" width="24.80" height="73.84" fill="#000" stroke="none" stroke-width="1"/>
<rect x="609.80" y="839.90" width="23.80" height="7.02" fill="#777" stroke="#444" stroke-width="1"/>
<rect x="647.20" y="839.90" width="23.30" height="7.02" fill="#cfcfcf" stroke="#444" stroke-width="1"/>
<line x1="510.50" y1="798.60" x2="510.50" y2="780.50" stroke="#000" stroke-width="1" />
<line x1="504.20" y1="780.50" x2="516.80" y2="780.50" stroke="#000" stroke-width="1" />
<line x1="547.80" y1="849.40" x2="547.80" y2="874.40" stroke="#000" stroke-width="1" />
<line x1="541.40" y1="874.40" x2="554.20" y2="874.40" stroke="#000" stroke-width="1" />
<line x1="584.50" y1="766.40" x2="584.50" y2="743.80" stroke="#000" stroke-width="1" />
<line x1="578.10" y1="743.80" x2="590.90" y2="743.80" stroke="#000" stroke-width="1" />
<line x1="621.70" y1="847.00" x2="621.70" y2="868.00" stroke="#000" stroke-width="1" />
<line x1="615.30" y1="868.00" x2="628.10" y2="868.00" stroke="#000" stroke-width="1" />
<line x1="658.80" y1="847.00" x2="658.80" y2="862.80" stroke="#000" stroke-width="1" />
<line x1="652.60" y1="862.80" x2="665.00" y2="862.80" stroke="#000" stroke-width="1" />
<line x1="510.50" y1="885.20" x2="510.50" y2="888.20" stroke="#4d4d4d" stroke-width="1" />
<line x1="547.80" y1="885.20" x2="547.80" y2="888.20" stroke="#4d4d4d" stroke-width="1" />
<line x1="585.00" y1="885.20" x2="585.00" y2="888.20" stroke="#4d4d4d" stroke-width="1" />
<line x1="622.00" y1="885.20" x2="622.00" y2="888.20" stroke="#4d4d4d" stroke-width="1" />
<line x1="659.00" y1="885.20" x2="659.00" y2="888.20" stroke="#4d4d4d" stroke-width="1" />
<line x1="566.50" y1="721.00" x2="566.50" y2="883.00" stroke="#000" stroke-width="1.1" stroke-dasharray="3 2"/>
<line x1="588.90" y1="741.40" x2="658.20" y2="741.40" stroke="#000" stroke-width="1.3" />
<line x1="621.50" y1="741.40" x2="621.50" y2="744.80" stroke="#000" stroke-width="1" />
<line x1="658.20" y1="741.40" x2="658.20" y2="744.80" stroke="#000" stroke-width="1" />
<text x="584.10" y="739.00" text-anchor="middle" font-size="10.4" fill="#1a1a1a" stroke="#1a1a1a" stroke-width="0.15" font-weight="normal" >&amp;</text>
<polygon points="621.50,750.40 622.15,751.71 623.59,751.92 622.55,752.94 622.79,754.38 621.50,753.70 620.21,754.38 620.45,752.94 619.41,751.92 620.85,751.71" fill="#111"/>
<polygon points="658.20,750.40 658.85,751.71 660.29,751.92 659.25,752.94 659.49,754.38 658.20,753.70 656.91,754.38 657.15,752.94 656.11,751.92 657.55,751.71" fill="#111"/>
<text x="509.30" y="723.10" text-anchor="middle" font-size="9.8" fill="#1a1a1a" stroke="#1a1a1a" stroke-width="0.15" font-weight="normal" >Whole</text>
<text x="509.10" y="734.50" text-anchor="middle" font-size="9.8" fill="#1a1a1a" stroke="#1a1a1a" stroke-width="0.15" font-weight="normal" >cell</text>
<text x="548.20" y="723.10" text-anchor="middle" font-size="9.8" fill="#1a1a1a" stroke="#1a1a1a" stroke-width="0.15" font-weight="normal" >Cyotsol</text>
<text x="547.90" y="734.50" text-anchor="middle" font-size="9.8" fill="#1a1a1a" stroke="#1a1a1a" stroke-width="0.15" font-weight="normal" >fraction</text>
<text x="623.80" y="723.10" text-anchor="middle" font-size="9.8" fill="#1a1a1a" stroke="#1a1a1a" stroke-width="0.15" font-weight="normal" >Membrane fraction</text>
<text x="0" y="0" text-anchor="middle" font-size="11.3" fill="#1a1a1a" stroke="#1a1a1a" stroke-width="0.15" transform="translate(458.50,810.00) rotate(-90)">PLA2 activity (% change)</text>
<text x="0" y="0" text-anchor="end" font-size="11.3" fill="#1a1a1a" stroke="#1a1a1a" stroke-width="0.15" transform="translate(514.0,895.9) rotate(-45)">norBNI</text>
<text x="0" y="0" text-anchor="end" font-size="11.3" fill="#1a1a1a" stroke="#1a1a1a" stroke-width="0.15" transform="translate(551.3,895.9) rotate(-45)">norBNI</text>
<text x="0" y="0" text-anchor="end" font-size="11.3" fill="#1a1a1a" stroke="#1a1a1a" stroke-width="0.15" transform="translate(588.5,895.9) rotate(-45)">norBNI</text>
<text x="0" y="0" text-anchor="end" font-size="11.3" fill="#1a1a1a" stroke="#1a1a1a" stroke-width="0.15" transform="translate(625.5,895.9) rotate(-45)">JNKIN8+norBNI</text>
<text x="0" y="0" text-anchor="end" font-size="11.3" fill="#1a1a1a" stroke="#1a1a1a" stroke-width="0.15" transform="translate(662.5,895.9) rotate(-45)">MJ33+norBNI</text>
</svg></body></html>
